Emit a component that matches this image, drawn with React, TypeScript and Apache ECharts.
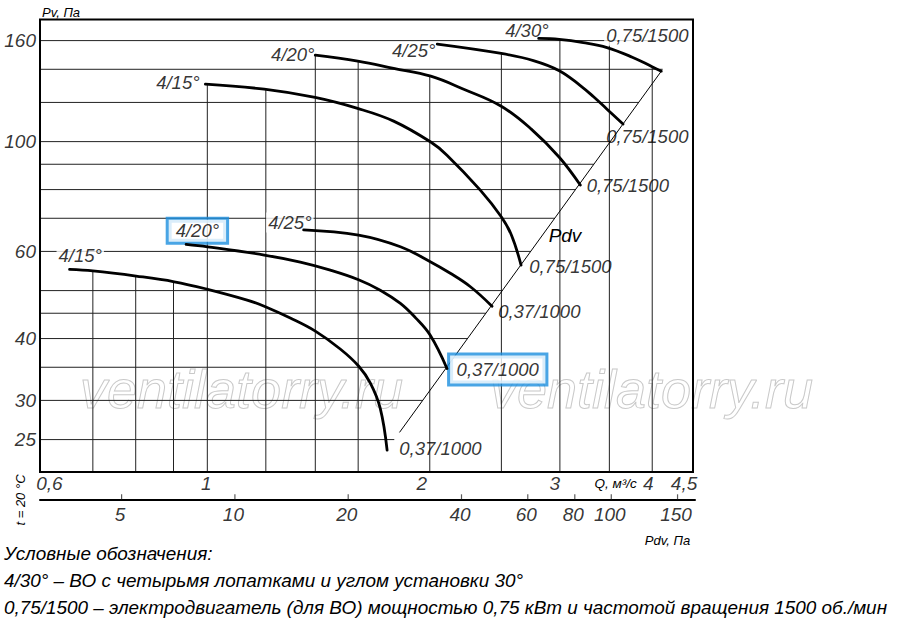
import React, { useEffect, useRef } from 'react';
import * as echarts from 'echarts';

// ---- axis ranges ----
const Q_MIN = 0.5937;
const Q_MAX = 4.542;
const PV_MIN = 21.5;
const PV_MAX = 176.5;
const PDV_MIN = 3.035;
const PDV_MAX = 166.9;

// ---- tick labels ----
const qTicks = [0.6, 1, 2, 3, 4, 4.5];
const qTickLabels = ['0,6', '1', '2', '3', '4', '4,5'];
const qLabelShift = [6, -1, -8, -5, -4, -6];
const pvTicks = [25, 30, 40, 60, 100, 160];
const pdvTicks = [5, 10, 20, 40, 60, 80, 100, 150];

// ---- grid lines ----
const hGrid = [25, 30, 35, 40, 45, 50, 60, 70, 80, 90, 100, 120, 140, 160];
const vGridQ = [0.7, 0.8, 0.9, 1, 1.2, 1.4, 1.6, 2, 2.5, 3, 3.5, 4];
const vGridTop = [54.8, 53.5, 52.1, 130.7, 127.6, 149.5, 145, 135.6, 150.7, 160.9, 160, 141];

// ---- characteristic curves [Q m3/s, Pv Pa] ----
const c15hi = [[0.994, 130.7], [1.194, 127.6], [1.399, 122.8], [1.597, 116.7], [1.787, 110.0], [2.006, 99.8], [2.110, 93.9], [2.341, 79.8], [2.499, 70.5], [2.580, 64.7], [2.658, 56.3]];
const c20hi = [[1.400, 149.5], [1.598, 145.4], [1.787, 140.6], [2.006, 135.6], [2.223, 127.6], [2.499, 117.9], [2.744, 106.0], [2.994, 93.0], [3.197, 81.7]];
const c25hi = [[2.047, 157.4], [2.499, 150.7], [2.762, 145.8], [2.994, 139.1], [3.197, 129.8], [3.332, 123.2], [3.474, 116.3], [3.652, 108.5]];
const c30hi = [[2.808, 161.6], [2.994, 160.9], [3.227, 158.5], [3.474, 154.9], [3.759, 148.1], [3.998, 141.7], [4.115, 138.8]];
const c15lo = [[0.651, 55.2], [0.700, 54.8], [0.801, 53.5], [0.902, 52.1], [1.001, 50.3], [1.132, 47.85], [1.194, 46.5], [1.295, 44.0], [1.400, 41.4], [1.513, 38.1], [1.602, 35.2], [1.662, 32.5], [1.714, 28.9], [1.751, 23.8]];
const c20lo = [[0.936, 62.0], [1.001, 61.3], [1.194, 59.0], [1.336, 57.1], [1.467, 55.0], [1.602, 52.6], [1.714, 50.1], [1.825, 47.1], [1.912, 44.1], [2.003, 40.6], [2.110, 34.8]];
const c25lo = [[1.350, 66.3], [1.602, 64.7], [1.825, 61.3], [2.003, 57.2], [2.132, 54.2], [2.270, 50.9], [2.428, 46.5]];

// ---- Pdv limit line ----
const diag = [[1.820, 25.85], [4.115, 138.8]];

const BLUE = '#1b8fdf';
const FONT = '"Liberation Sans", Arial, sans-serif';

export default function App() {
  const ref = useRef<HTMLDivElement>(null);

  useEffect(() => {
    if (!ref.current) return;
    const chart = echarts.init(ref.current, undefined, { renderer: 'svg' });

    const k = Math.log(diag[1][1] / diag[0][1]) / Math.log(diag[1][0] / diag[0][0]);
    const qOnDiag = (p: number) => diag[0][0] * Math.pow(p / diag[0][1], 1 / k);

    const series: any[] = [];
    hGrid.forEach((v) => {
      series.push({
        type: 'line', xAxisIndex: 0, yAxisIndex: 0, silent: true, symbol: 'none', z: 1,
        data: [[Q_MIN, v], [Math.min(qOnDiag(v), Q_MAX), v]],
        lineStyle: { color: '#222', width: 1 },
      });
    });
    vGridQ.forEach((q, i) => {
      series.push({
        type: 'line', xAxisIndex: 0, yAxisIndex: 0, silent: true, symbol: 'none', z: 1,
        data: [[q, PV_MIN], [q, vGridTop[i]]],
        lineStyle: { color: '#222', width: 1 },
      });
    });
    series.push({
      type: 'line', silent: true, symbol: 'none', z: 2, data: diag,
      lineStyle: { color: '#000', width: 1 },
    });
    [c15hi, c20hi, c25hi, c30hi, c15lo, c20lo, c25lo].forEach((c) => {
      series.push({
        type: 'line', silent: true, symbol: 'none', z: 4, smooth: 0.4, data: c,
        lineStyle: { color: '#000', width: 2.8, cap: 'round' },
      });
    });

    const first = (c: number[][]) => c[0];
    const last = (c: number[][]) => c[c.length - 1];
    const white = { backgroundColor: '#fff', padding: [0, 2] };
    const boxed = { backgroundColor: '#fff', borderColor: BLUE, borderWidth: 3 };
    const curveLabels: any[] = [
      { p: first(c15hi), t: '4/15°', off: [-27.5, -1.5] },
      { p: first(c20hi), t: '4/20°', off: [-22.5, -0.5] },
      { p: first(c25hi), t: '4/25°', off: [-23.5, 6.8] },
      { p: first(c30hi), t: '4/30°', off: [-11.8, -8.3] },
      { p: last(c15hi), t: '0,75/1500', off: [49.3, 1.5] },
      { p: last(c20hi), t: '0,75/1500', off: [47.5, 0.5] },
      { p: last(c25hi), t: '0,75/1500', off: [24.3, 12.5] },
      { p: last(c30hi), t: '0,75/1500', off: [-14, -35.5], extra: white },
      { p: first(c15lo), t: '4/15°', off: [10.7, -14.3], extra: white },
      { p: first(c20lo), t: '4/20°', off: [11.3, -13.5], extra: { ...boxed, padding: [1, 7] } },
      { p: first(c25lo), t: '4/25°', off: [-13.8, -7.5], extra: white },
      { p: last(c15lo), t: '0,37/1000', off: [53.3, -1.5] },
      { p: last(c20lo), t: '0,37/1000', off: [50.8, 1], extra: { ...boxed, padding: [4, 6.5] } },
      { p: last(c25lo), t: '0,37/1000', off: [47.3, 5.5] },
    ];
    const lblBase = { show: true, position: 'inside', color: '#000', fontStyle: 'italic', fontFamily: FONT, fontSize: 18.5, lineHeight: 20 };
    series.push({
      type: 'scatter', silent: true, z: 3, symbolSize: 1, clip: false,
      itemStyle: { color: 'rgba(0,0,0,0)' },
      data: curveLabels.map((l) => ({
        value: l.p,
        label: { ...lblBase, formatter: l.t, offset: l.off, ...(l.extra || {}) },
      })),
    });

    // axis tick labels
    series.push({
      type: 'scatter', silent: true, z: 3, symbolSize: 1, clip: false,
      itemStyle: { color: 'rgba(0,0,0,0)' },
      data: qTicks.map((q, i) => ({
        value: [q, PV_MIN],
        label: { ...lblBase, fontSize: 19, formatter: qTickLabels[i], offset: [qLabelShift[i], 11] },
      })),
    });
    series.push({
      type: 'scatter', silent: true, z: 3, symbolSize: 1, clip: false,
      itemStyle: { color: 'rgba(0,0,0,0)' },
      data: pvTicks.map((v) => ({
        value: [Q_MIN, v],
        label: { ...lblBase, fontSize: 19, position: 'left', distance: 3.5, formatter: String(v) },
      })),
    });
    series.push({
      type: 'scatter', silent: true, z: 3, xAxisIndex: 1, yAxisIndex: 1, clip: false,
      symbol: 'rect', symbolSize: [1.2, 5], symbolOffset: [0, -2.5],
      itemStyle: { color: '#333' },
      data: pdvTicks.map((p) => [p, 0]),
    });
    series.push({
      type: 'scatter', silent: true, z: 3, xAxisIndex: 1, yAxisIndex: 1, clip: false, symbolSize: 1,
      itemStyle: { color: 'rgba(0,0,0,0)' },
      data: pdvTicks.map((p) => ({
        value: [p, 0],
        label: { ...lblBase, fontSize: 19, formatter: String(p), offset: [-1.5, 15] },
      })),
    });

    const txt = (text: string, x: number, y: number, size: number, align = 'left', extra: any = {}) => ({
      type: 'text', x, y, z: 10, silent: true, ...extra,
      style: {
        text, font: `italic ${size}px ${FONT}`, fill: '#000',
        align, textAlign: align, verticalAlign: 'middle', textVerticalAlign: 'middle',
      },
    });
    const leg = (text: string, y: number) => ({
      type: 'text', x: 4, y, z: 10, silent: true,
      style: { text, font: `italic 18.9px ${FONT}`, fill: '#000', align: 'left', textAlign: 'left', verticalAlign: 'middle', textVerticalAlign: 'middle' },
    });
    const wm = (x: number) => ({
      type: 'text', x, y: 389, z: 0, zlevel: 0, silent: true,
      style: { text: 'ventilatorry.ru', font: `italic 54px ${FONT}`, fill: 'none', stroke: '#c9c9c9', lineWidth: 1, align: 'left', textAlign: 'left', verticalAlign: 'middle', textVerticalAlign: 'middle' },
    });

    chart.setOption({
      animation: false,
      backgroundColor: '#fff',
      grid: [
        { left: 40, right: 207, top: 19.5, bottom: 150, show: true, borderColor: '#000', borderWidth: 2, backgroundColor: 'transparent', z: 5 },
        { left: 40, right: 205, top: 494, bottom: 122.7, show: false },
      ],
      xAxis: [
        { type: 'log', gridIndex: 0, min: Q_MIN, max: Q_MAX, axisLine: { show: false }, axisTick: { show: false }, axisLabel: { show: false }, splitLine: { show: false } },
        { type: 'log', gridIndex: 1, min: PDV_MIN, max: PDV_MAX, axisLine: { show: true, onZero: false, lineStyle: { color: '#000', width: 2 } }, axisTick: { show: false }, axisLabel: { show: false }, splitLine: { show: false } },
      ],
      yAxis: [
        { type: 'log', gridIndex: 0, min: PV_MIN, max: PV_MAX, axisLine: { show: false }, axisTick: { show: false }, axisLabel: { show: false }, splitLine: { show: false } },
        { type: 'value', gridIndex: 1, min: 0, max: 1, show: false },
      ],
      series,
      graphic: [
        wm(80), wm(490),
        txt('Pv, Па', 42, 12.5, 13),
        txt('Q, м³/с', 615.5, 483, 13.5, 'center'),
        txt('Pdv, Па', 667.5, 540, 13, 'center'),
        txt('Pdv', 565, 235, 19, 'center'),
        txt('t = 20 °C', 20, 500, 13, 'center', { rotation: Math.PI / 2 }),
        leg('Условные обозначения:', 553),
        leg('4/30° – ВО с четырьмя лопатками и углом установки 30°', 580),
        leg('0,75/1500 – электродвигатель (для ВО) мощностью 0,75 кВт и частотой вращения 1500 об./мин', 607),
      ],
    });
    return () => chart.dispose();
  }, []);

  return <div ref={ref} style={{ position: 'absolute', left: 0, top: 0, width: 900, height: 622 }} />;
}
